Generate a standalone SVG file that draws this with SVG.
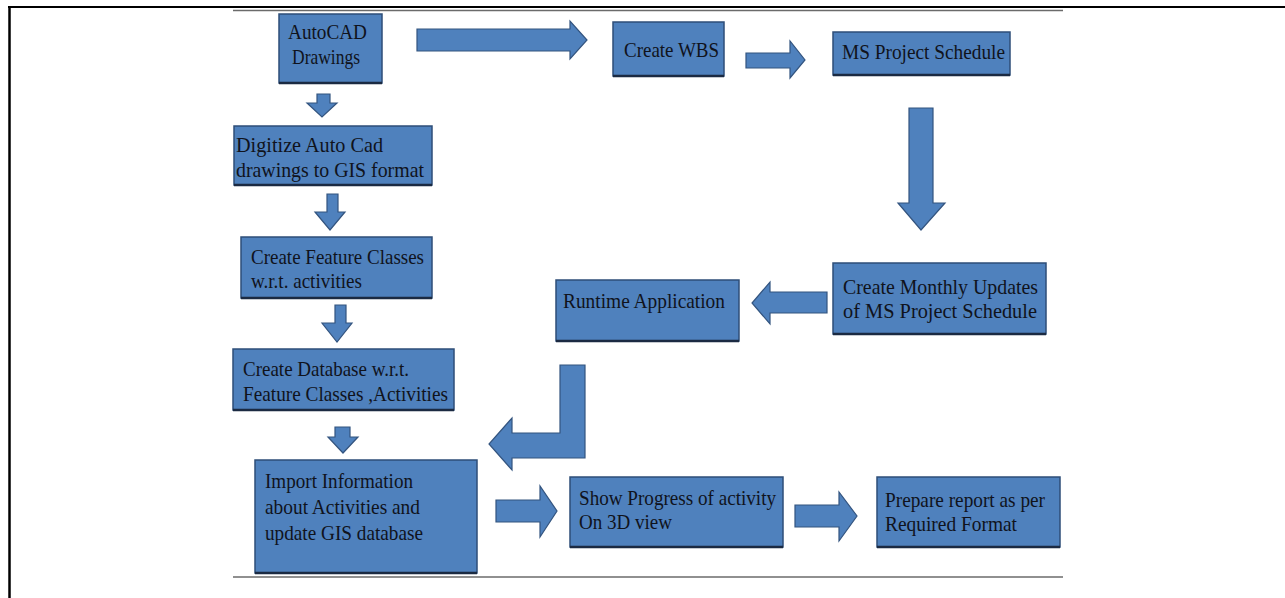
<svg xmlns="http://www.w3.org/2000/svg" width="1285" height="598" viewBox="0 0 1285 598">
<style>
.box{fill:#4F81BD;stroke:#2E4E78;stroke-width:1.5}
.shadow{stroke:#1B2A42;stroke-width:2.5}
.t{font-family:"Liberation Serif","Times New Roman",serif;font-size:22px;fill:#10131c}
.arr{fill:#4F81BD;stroke:#33547F;stroke-width:1.2;stroke-linejoin:miter}
.frame{stroke:#000;fill:none}
.rule{stroke:#6b6b6b;stroke-width:1.5}
</style>
<rect x="0" y="0" width="1285" height="598" fill="#fff"/>
<g id="frame">
<line class="frame" x1="8" y1="7" x2="1285" y2="7" stroke-width="2.2"/>
<line class="frame" x1="9.5" y1="6" x2="9.5" y2="598" stroke-width="2.5"/>
<line class="rule" x1="233" y1="10.5" x2="1063" y2="10.5"/>
<line class="rule" x1="233" y1="577" x2="1063" y2="577"/>
</g>
<g id="connectors">
<polygon class="arr" points="417,29 570,29 570,21 587,40 570,59 570,51 417,51"/>
<polygon class="arr" points="746,53 790,53 790,41 805,60 790,78 790,68 746,68"/>
<polygon class="arr" points="317,94 330,94 330,103 337,103 322,117 307,103 317,103"/>
<polygon class="arr" points="327,194 338,194 338,212 345,212 330,230 315,212 327,212"/>
<polygon class="arr" points="335,305 346,305 346,323 352,323 337,342 322,323 335,323"/>
<polygon class="arr" points="335,427 350,427 350,437 358,437 343,453 328,437 335,437"/>
<polygon class="arr" points="909,108 933,108 933,203 945,203 921,230 898,203 909,203"/>
<polygon class="arr" points="827,292 827,313 770,313 770,324 752,303 770,282 770,292"/>
<polygon class="arr" points="560,365 585,365 585,458 512,458 512,470 489,444 512,418 512,433 560,433"/>
<polygon class="arr" points="496,500 540,500 540,486 557,511 540,537 540,522 496,522"/>
<polygon class="arr" points="795,505 839,505 839,492 857,516 839,541 839,527 795,527"/>
</g>
<g id="autocad">
<rect class="box" x="279" y="14" width="103" height="69"/>
<line class="shadow" x1="279" y1="83" x2="382" y2="83"/>
<text class="t" x="288" y="39" textLength="79" lengthAdjust="spacingAndGlyphs">AutoCAD</text>
<text class="t" x="292" y="64" textLength="68" lengthAdjust="spacingAndGlyphs">Drawings</text>
</g>
<g id="wbs">
<rect class="box" x="613" y="22" width="111" height="54"/>
<line class="shadow" x1="613" y1="76" x2="724" y2="76"/>
<text class="t" x="624" y="57" textLength="95" lengthAdjust="spacingAndGlyphs">Create WBS</text>
</g>
<g id="msproject">
<rect class="box" x="833" y="32" width="177" height="43"/>
<line class="shadow" x1="833" y1="75" x2="1010" y2="75"/>
<text class="t" x="842" y="59" textLength="163" lengthAdjust="spacingAndGlyphs">MS Project Schedule</text>
</g>
<g id="digitize">
<rect class="box" x="234" y="126" width="198" height="59"/>
<line class="shadow" x1="234" y1="185" x2="432" y2="185"/>
<text class="t" x="236" y="152" textLength="147" lengthAdjust="spacingAndGlyphs">Digitize Auto Cad</text>
<text class="t" x="236" y="177" textLength="188" lengthAdjust="spacingAndGlyphs">drawings to GIS format</text>
</g>
<g id="featureclasses">
<rect class="box" x="241" y="237" width="191" height="61"/>
<line class="shadow" x1="241" y1="298" x2="432" y2="298"/>
<text class="t" x="251" y="264" textLength="173" lengthAdjust="spacingAndGlyphs">Create Feature Classes</text>
<text class="t" x="251" y="288" textLength="111" lengthAdjust="spacingAndGlyphs">w.r.t. activities</text>
</g>
<g id="database">
<rect class="box" x="233" y="349" width="221" height="61"/>
<line class="shadow" x1="233" y1="410" x2="454" y2="410"/>
<text class="t" x="243" y="376" textLength="166" lengthAdjust="spacingAndGlyphs">Create Database w.r.t.</text>
<text class="t" x="243" y="401" textLength="205" lengthAdjust="spacingAndGlyphs">Feature Classes ,Activities</text>
</g>
<g id="runtime">
<rect class="box" x="556" y="280" width="183" height="61"/>
<line class="shadow" x1="556" y1="341" x2="739" y2="341"/>
<text class="t" x="563" y="308" textLength="162" lengthAdjust="spacingAndGlyphs">Runtime Application</text>
</g>
<g id="monthly">
<rect class="box" x="833" y="263" width="213" height="71"/>
<line class="shadow" x1="833" y1="334" x2="1046" y2="334"/>
<text class="t" x="843" y="294" textLength="195" lengthAdjust="spacingAndGlyphs">Create Monthly Updates</text>
<text class="t" x="843" y="318" textLength="194" lengthAdjust="spacingAndGlyphs">of MS Project Schedule</text>
</g>
<g id="import">
<rect class="box" x="255" y="460" width="222" height="113"/>
<line class="shadow" x1="255" y1="573" x2="477" y2="573"/>
<text class="t" x="265" y="488" textLength="148" lengthAdjust="spacingAndGlyphs">Import Information</text>
<text class="t" x="265" y="514" textLength="155" lengthAdjust="spacingAndGlyphs">about Activities and</text>
<text class="t" x="265" y="540" textLength="158" lengthAdjust="spacingAndGlyphs">update GIS database</text>
</g>
<g id="showprogress">
<rect class="box" x="570" y="477" width="213" height="70"/>
<line class="shadow" x1="570" y1="547" x2="783" y2="547"/>
<text class="t" x="579" y="505" textLength="197" lengthAdjust="spacingAndGlyphs">Show Progress of activity</text>
<text class="t" x="579" y="529" textLength="93" lengthAdjust="spacingAndGlyphs">On 3D view</text>
</g>
<g id="prepare">
<rect class="box" x="877" y="477" width="183" height="70"/>
<line class="shadow" x1="877" y1="547" x2="1060" y2="547"/>
<text class="t" x="885" y="507" textLength="160" lengthAdjust="spacingAndGlyphs">Prepare report as per</text>
<text class="t" x="885" y="531" textLength="132" lengthAdjust="spacingAndGlyphs">Required Format</text>
</g>
</svg>
